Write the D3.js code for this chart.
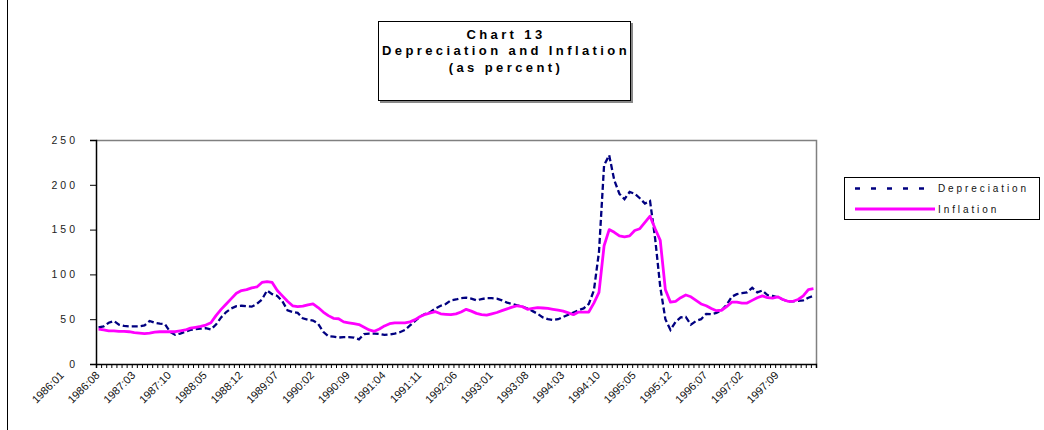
<!DOCTYPE html>
<html>
<head>
<meta charset="utf-8">
<script src="https://cdn.jsdelivr.net/npm/d3@7"></script>
<style>
  body { margin: 0; background: #fff; }
  svg { display: block; font-family: Arial, "Liberation Sans", sans-serif; }
</style>
</head>
<body>
<div id="chart"></div>
<script>
// monthly categories, 1986:01 .. 1997:09
const startYear = 1986;
const monthCount = 141;
const months = d3.range(monthCount).map(i => {
  const y = startYear + Math.floor(i / 12);
  const m = (i % 12) + 1;
  return `${y}:${m < 10 ? "0" + m : m}`;
});

const tickLabels = ["1986:01", "1986:08", "1987:03", "1987:10", "1988:05", "1988:12",
  "1989:07", "1990:02", "1990:09", "1991:04", "1991:11", "1992:06", "1993:01",
  "1993:08", "1994:03", "1994:10", "1995:05", "1995:12", "1996:07", "1997:02", "1997:09"];

const yTicks = [0, 50, 100, 150, 200, 250];

const depreciation = [
  41, 42, 46, 48, 44, 42.5, 42, 42, 42, 43, 48, 46,
  45, 44.5, 36, 32.5, 34, 36, 38, 39, 39.5, 40, 38.5, 44,
  52, 58, 62, 64.5, 65, 64.5, 64, 67, 72, 82, 78, 76,
  70, 60, 58, 57, 51, 49.5, 48.5, 45, 36, 31, 30.5, 29.5,
  30, 30, 29.5, 27.5, 33.5, 34, 34, 33.5, 32.5, 33, 34, 35.5,
  38, 43, 48, 53, 56, 58, 62, 65, 67, 71, 72, 73.5,
  74, 73, 71, 72.5, 73.5, 73.5, 73, 71, 68.5, 67, 65.5, 64,
  62, 59, 56, 52, 50, 49, 50, 52.5, 55, 57.5, 60, 62,
  67, 82, 125, 222, 233, 205, 190, 184, 192, 190, 185, 179,
  182, 140, 86, 50, 38, 47, 52, 52.5, 44, 48, 50, 56,
  55.5, 57, 60, 66, 75, 78, 79, 80, 85, 80, 82, 77,
  76, 74.5, 72, 70, 70, 70.5, 71, 74, 76
];

const inflation = [
  39, 38, 37, 37, 36.5, 36.5, 36, 35, 34.5, 34, 34.5, 35.5,
  36, 36, 36, 36, 37, 38, 40, 41, 42, 43.5, 46, 54,
  61, 67, 73, 79, 82, 83, 85, 86, 91, 92, 91, 82,
  76, 70, 65, 64, 64.5, 66, 67, 63, 58, 54, 51, 50.5,
  47, 46, 45, 44, 41, 38, 36.5, 39, 42.5, 45, 46, 46,
  46, 47, 49.5, 53, 55.5, 57, 58.4, 56, 55.5, 55, 56, 58,
  61, 59, 56.5, 55, 54.5, 56, 57.5, 59.5, 61.5, 63.5, 65, 64,
  61, 62, 63, 62.5, 62, 61, 60, 59, 57, 55, 58, 58,
  58, 68, 80, 132, 150, 147, 143, 142, 143, 149, 151, 158,
  165, 151, 138, 83, 69, 70, 74, 77, 75, 71, 67, 65,
  62, 59.5, 60, 64, 69, 69, 68, 68, 71, 74, 76, 74,
  73.5, 75, 72, 70, 70, 72, 76, 83, 84
];

const svgWidth = 1044;
const svgHeight = 430;

const plot = { left: 96, right: 816, top: 140, bottom: 364 };

const svg = d3.select("#chart")
  .append("svg")
  .attr("width", svgWidth)
  .attr("height", svgHeight);

// outer chart frame (left edge only visible)
svg.append("line")
  .attr("x1", 7.5).attr("x2", 7.5)
  .attr("y1", 0).attr("y2", svgHeight)
  .attr("stroke", "#000")
  .attr("stroke-width", 1);

// scales
const xIdx = d3.scaleLinear()
  .domain([0, monthCount])
  .range([plot.left, plot.right]);
const xPos = m => xIdx(months.indexOf(m) + 0.5);

const yScale = d3.scaleLinear()
  .domain([0, 250])
  .range([plot.bottom, plot.top]);

// plot area border (top/right gray)
svg.append("path")
  .attr("d", `M${plot.left},${plot.top + 0.5}H${plot.right + 0.5}V${plot.bottom}`)
  .attr("fill", "none")
  .attr("stroke", "#808080")
  .attr("stroke-width", 1.5);

// y axis
const yAxis = svg.append("g")
  .attr("transform", `translate(${plot.left},0)`)
  .call(d3.axisLeft(yScale).tickValues(yTicks).tickSize(6).tickPadding(12));
yAxis.select(".domain").attr("stroke", "#000").attr("stroke-width", 1.5);
yAxis.selectAll(".tick line").attr("stroke", "#000");
yAxis.selectAll("text")
  .attr("font-size", "10.5px")
  .attr("font-family", "Arial, 'Liberation Sans', sans-serif")
  .attr("letter-spacing", "3px")
  .attr("fill", "#222");

// x axis: ticks between months
const xAxis = svg.append("g")
  .attr("transform", `translate(0,${plot.bottom})`)
  .call(d3.axisBottom(xIdx).tickValues(d3.range(monthCount + 1)).tickSize(4).tickFormat(""));
xAxis.select(".domain").attr("stroke", "#000").attr("stroke-width", 1.5);
xAxis.selectAll(".tick line").attr("stroke", "#000");

// rotated month labels
svg.append("g")
  .selectAll("text")
  .data(tickLabels)
  .enter()
  .append("text")
  .attr("transform", d => `translate(${xPos(d) - 34},${plot.bottom + 12}) rotate(-45)`)
  .attr("text-anchor", "end")
  .attr("font-size", "11px")
  .attr("fill", "#111")
  .text(d => d);

// lines
const line = series => d3.line()
  .x((d, i) => xIdx(i + 0.5))
  .y(d => yScale(d))(series);

svg.append("path")
  .attr("d", line(depreciation))
  .attr("fill", "none")
  .attr("stroke", "#000080")
  .attr("stroke-width", 2.3)
  .attr("stroke-dasharray", "6,3");

svg.append("path")
  .attr("d", line(inflation))
  .attr("fill", "none")
  .attr("stroke", "#FF00FF")
  .attr("stroke-width", 2.8)
  .attr("stroke-linejoin", "round");

// title box
const title = svg.append("g");
title.append("rect")
  .attr("x", 380).attr("y", 23)
  .attr("width", 253).attr("height", 80)
  .attr("fill", "#888");
title.append("rect")
  .attr("x", 378.5).attr("y", 21.5)
  .attr("width", 252).attr("height", 79)
  .attr("fill", "#fff")
  .attr("stroke", "#000");
const titleLines = ["Chart 13", "Depreciation and Inflation", "(as percent)"];
title.selectAll("text.title")
  .data(titleLines)
  .enter()
  .append("text")
  .attr("class", "title")
  .attr("x", 506)
  .attr("y", (d, i) => [38.5, 55, 72][i])
  .attr("text-anchor", "middle")
  .attr("font-size", "13px")
  .attr("font-weight", "bold")
  .attr("letter-spacing", "3.4px")
  .text(d => d);

// legend
const legend = svg.append("g");
legend.append("rect")
  .attr("x", 844.5).attr("y", 177.5)
  .attr("width", 195).attr("height", 42)
  .attr("fill", "#fff")
  .attr("stroke", "#000");
const legendItems = [
  { name: "Depreciation", color: "#000080", dash: "5,11", width: 2.4 },
  { name: "Inflation", color: "#FF00FF", dash: null, width: 2.8 }
];
legendItems.forEach((item, i) => {
  const ly = [188.5, 209][i];
  legend.append("line")
    .attr("x1", 855).attr("x2", 935)
    .attr("y1", ly).attr("y2", ly)
    .attr("stroke", item.color)
    .attr("stroke-width", item.width)
    .attr("stroke-dasharray", item.dash);
  legend.append("text")
    .attr("x", 938)
    .attr("y", ly + 3.5)
    .attr("font-size", "10px")
    .attr("letter-spacing", "2.9px")
    .attr("fill", "#111")
    .text(item.name);
});
</script>
</body>
</html>
